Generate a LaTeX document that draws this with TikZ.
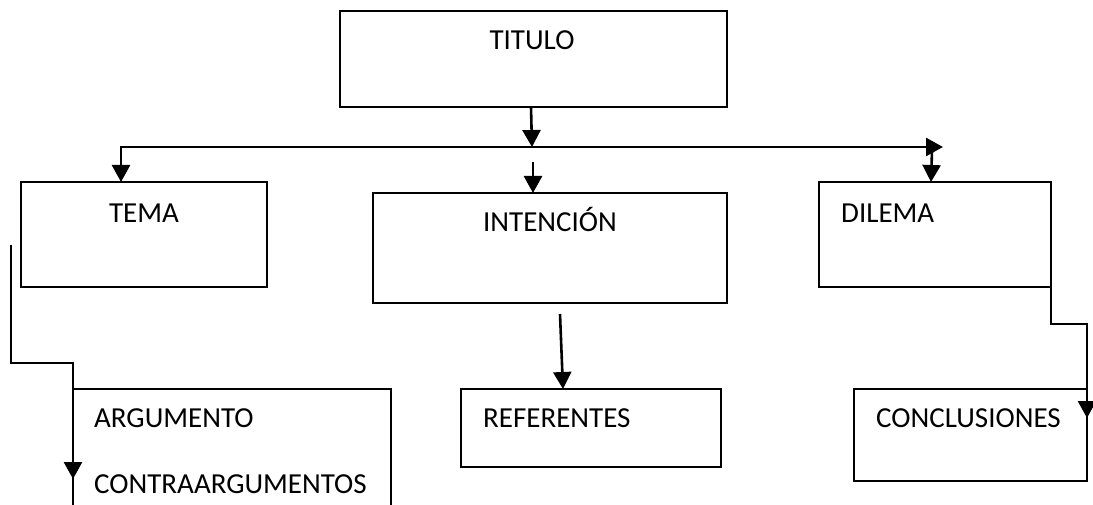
\documentclass[tikz,border=0pt]{standalone}
\usepackage{fontspec}
\setmainfont{Carlito}
\usetikzlibrary{arrows.meta}
\begin{document}
\begin{tikzpicture}[x=1pt,y=-1pt,
  box/.style={draw=black,line width=2pt},
  lbl/.style={inner sep=0pt,font=\fontsize{29}{34}\selectfont},
  conn/.style={draw=black,line width=2.6pt},
  tip/.style={-{Triangle[width=18pt,length=17pt]}},
  tips/.style={{Triangle[width=18pt,length=17pt]}-{Triangle[width=18pt,length=17pt]}}]
\useasboundingbox (0,0) rectangle (1093,505);
% boxes
\draw[box] (340,11) rectangle (727,107);
\draw[box] (21,182) rectangle (267,287);
\draw[box] (373,193) rectangle (727,303);
\draw[box] (819,182) rectangle (1051,287);
\draw[box] (73,520) -- (73,389) -- (391,389) -- (391,520);
\draw[box] (461,389) rectangle (721,467);
\draw[box] (854,389) rectangle (1087,481);
% texts
\node[lbl,anchor=base] (tTitulo) at (532,50) {TITULO};
\node[lbl,anchor=base] (tTema) at (144,223) {TEMA};
\node[lbl,anchor=base] (tInt) at (550,232) {INTENCIÓN};
\node[lbl,anchor=base west] (tDil) at (841,223) {DILEMA};
\node[lbl,anchor=base west] (tArg) at (94,427) {ARGUMENTO};
\node[lbl,anchor=base west] (tContra) at (94,493) {CONTRAARGUMENTOS};
\node[lbl,anchor=base west] (tRef) at (483,427) {REFERENTES};
\node[lbl,anchor=base west] (tConc) at (876,427) {CONCLUSIONES};
% coordinates
\coordinate (a1) at (531,107);
\coordinate (a2) at (532,147);
\coordinate (temaTop) at (121,182);
\coordinate (hEnd) at (943,147);
\coordinate (i1) at (533,162);
\coordinate (intTop) at (533,193);
\coordinate (d1) at (932,151);
\coordinate (dilTop) at (931,182);
\coordinate (r1) at (560,314);
\coordinate (refTop) at (563,389);
\coordinate (l1) at (11,245);
\coordinate (l2) at (11,363);
\coordinate (l3) at (73,363);
\coordinate (l4) at (73,479);
\coordinate (l5) at (73,506);
\coordinate (c1) at (1051,229);
\coordinate (c2) at (1051,324);
\coordinate (c3) at (1087,324);
\coordinate (c4) at (1087,418);
% connectors
\draw[conn,tip] (a1) -- (a2);
\draw[conn,tips] (temaTop) |- (hEnd);
\draw[conn,tip] (i1) -- (intTop);
\draw[conn,tip] (d1) -- (dilTop);
\draw[conn,tip] (r1) -- (refTop);
\draw[conn,tip] (l1) -- (l2) -- (l3) -- (l4);
\draw[conn] (l4) -- (l5);
\draw[conn,tip] (c1) -- (c2) -- (c3) -- (c4);
\end{tikzpicture}
\end{document}
